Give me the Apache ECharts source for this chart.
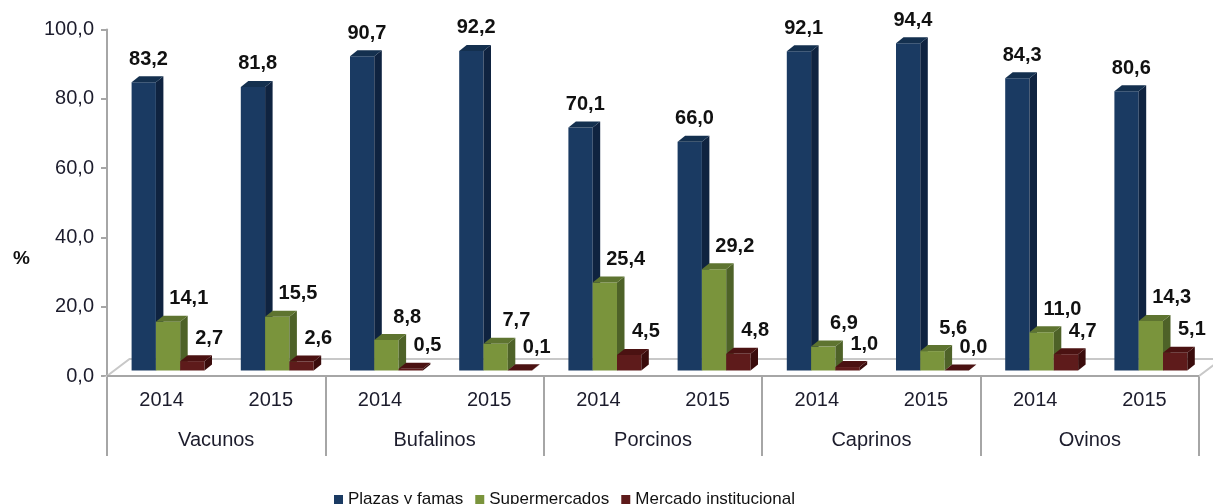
<!DOCTYPE html>
<html>
<head>
<meta charset="utf-8">
<script src="https://cdn.jsdelivr.net/npm/echarts@6/dist/echarts.min.js"></script>
<style>
html,body{margin:0;padding:0;background:#fff;}
#chart{width:1213px;height:504px;}
</style>
</head>
<body>
<div id="chart"></div>
<script>
// ---- data ----
var years = ["2014","2015","2014","2015","2014","2015","2014","2015","2014","2015"];
var groups = ["Vacunos","Bufalinos","Porcinos","Caprinos","Ovinos"];
var seriesNames = ["Plazas y famas","Supermercados","Mercado institucional"];
var plazas = [83.2,81.8,90.7,92.2,70.1,66.0,92.1,94.4,84.3,80.6];
var supermercados = [14.1,15.5,8.8,7.7,25.4,29.2,6.9,5.6,11.0,14.3];
var mercado = [2.7,2.6,0.5,0.1,4.5,4.8,1.0,0.0,4.7,5.1];
var yTicks = [0,20,40,60,80,100];

// ---- styles ----
var palettes = [
  {front:"#1A3A62", top:"#14304F", side:"#0F2340"},
  {front:"#7A943C", top:"#5E7430", side:"#4E6228"},
  {front:"#5E1B1B", top:"#4B1212", side:"#3A0C0C"}
];
var barOffset = [-30, -5.7, 18.6];   // left edge relative to category centre
var barWidth = 24.3;
var depthX = 7.5, depthY = -6, planeShift = -5.5;
var labelOffset = [1, 17, 13];
var fmt = function(v){ return v.toFixed(1).replace('.', ','); };

function makeRender(si){
  return function(params, api){
    var idx = api.value(0), v = api.value(1);
    var base = api.coord([idx, 0]);
    var topP = api.coord([idx, v]);
    var x0 = base[0] + barOffset[si];
    var x1 = x0 + barWidth;
    var yb = base[1] + planeShift;
    var yt = topP[1] + planeShift;
    var p = palettes[si];
    var children = [];
    if (yb - yt > 0.1) {
      children.push({type:'rect', shape:{x:x0, y:yt, width:barWidth, height:yb-yt}, style:{fill:p.front}});
      children.push({type:'polygon', shape:{points:[[x1,yt],[x1+depthX,yt+depthY],[x1+depthX,yb+depthY],[x1,yb]]}, style:{fill:p.side}});
    }
    children.push({type:'polygon', shape:{points:[[x0,yt],[x0+depthX,yt+depthY],[x1+depthX,yt+depthY],[x1,yt]]}, style:{fill:p.top}});
    children.push({type:'text', z2:100, style:{
      text: fmt(v),
      x: x0 + (barWidth + depthX)/2 + labelOffset[si],
      y: yt + depthY - 7,
      textAlign:'center', textVerticalAlign:'bottom',
      font:'bold 20px "Liberation Sans", Arial, sans-serif',
      fill:'#111'
    }});
    return {type:'group', children:children};
  };
}

function toData(arr){ return arr.map(function(v,i){ return [i, v]; }); }

function renderFloor(params, api){
  var first = api.coord([0, 0]);
  var last = api.coord([years.length - 1, 0]);
  var bw = api.size([1, 0])[0];
  var L = first[0] - bw/2, R = last[0] + bw/2, y = first[1];
  var dx = 22.5, dy = -17;
  return {type:'group', children:[
    {type:'polygon', shape:{points:[[L,y],[L+dx,y+dy],[R+dx,y+dy],[R,y]]}, style:{fill:'#fff', stroke:'#C8C8C8', lineWidth:2}},
    {type:'line', shape:{x1:L,y1:y,x2:R,y2:y}, style:{stroke:'#A6A6A6', lineWidth:2}}
  ]};
}

var chart = echarts.init(document.getElementById('chart'), null, {renderer:'canvas'});
var textColor = '#1c1c2c';
var series = [
  {type:'custom', name:'_floor', xAxisIndex:0, yAxisIndex:0, silent:true, data:[[0,0]], renderItem:renderFloor, z:1},
  {type:'custom', name:seriesNames[0], xAxisIndex:0, yAxisIndex:0, data:toData(plazas), renderItem:makeRender(0), itemStyle:{color:palettes[0].front}, z:2},
  {type:'custom', name:seriesNames[1], xAxisIndex:0, yAxisIndex:0, data:toData(supermercados), renderItem:makeRender(1), itemStyle:{color:palettes[1].front}, z:3},
  {type:'custom', name:seriesNames[2], xAxisIndex:0, yAxisIndex:0, data:toData(mercado), renderItem:makeRender(2), itemStyle:{color:palettes[2].front}, z:4}
];

chart.setOption({
  animation:false,
  backgroundColor:'#ffffff',
  grid:{left:107, right:14, top:29.4, bottom:128, containLabel:false},
  xAxis:[
    {type:'category', data:years, position:'bottom',
     axisLine:{show:false}, axisTick:{show:false},
     axisLabel:{margin:14, color:textColor, fontSize:20, fontFamily:'"Liberation Sans", Arial, sans-serif'}},
    {type:'category', data:groups, position:'bottom', gridIndex:0,
     axisLine:{show:false},
     axisTick:{show:true, length:80, lineStyle:{color:'#A6A6A6', width:2}},
     axisLabel:{margin:54, color:textColor, fontSize:20, fontFamily:'"Liberation Sans", Arial, sans-serif'}}
  ],
  yAxis:{type:'value', min:yTicks[0], max:yTicks[yTicks.length-1], interval:20,
    axisLine:{show:true, lineStyle:{color:'#A6A6A6', width:2}},
    axisTick:{show:true, length:6, lineStyle:{color:'#A6A6A6', width:2}},
    splitLine:{show:false},
    axisLabel:{margin:13, color:textColor, fontSize:20, fontFamily:'"Liberation Sans", Arial, sans-serif', formatter:function(v){ return fmt(v); }}
  },
  graphic:[{type:'text', left:13, top:249, style:{text:'%', font:'bold 19px "Liberation Sans", Arial, sans-serif', fill:'#111'}}],
  legend:{data:seriesNames, left:329, top:486, icon:'rect', itemWidth:9, itemHeight:9, itemGap:12,
    textStyle:{color:'#111', fontSize:17, fontFamily:'"Liberation Sans", Arial, sans-serif'}},
  series:series
});
</script>
</body>
</html>
